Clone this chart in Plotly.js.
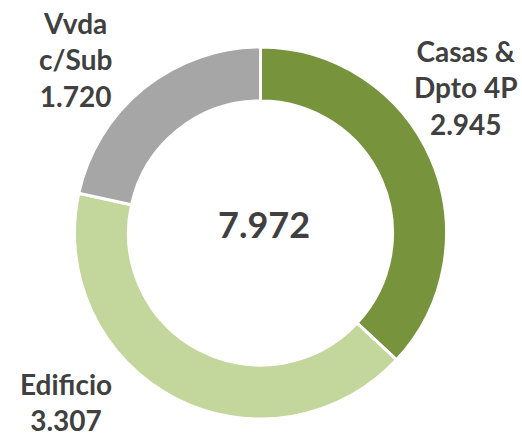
<!DOCTYPE html>
<html>
<head>
<meta charset="utf-8">
<script src="https://cdn.plot.ly/plotly-3.0.1.min.js"></script>
<style>html,body{margin:0;padding:0;background:#fff;}#chart{width:522px;height:439px;}</style>
</head>
<body>
<div id="chart"></div>
<script>
const categories = ["Casas &<br>Dpto 4P", "Edificio", "Vvda<br>c/Sub"];
const values = [2945, 3307, 1720];
const colors = ["#77933C", "#C3D69B", "#A6A6A6"];

function fmt(n) { return n.toString().replace(/\B(?=(\d{3})+(?!\d))/g, "."); }
const total = values.reduce((a, b) => a + b, 0);

const W = 522, H = 439;
// label anchor positions (pixels) for each category
const labelPos = [[466, 87], [66, 402], [75, 60]];

const annotations = categories.map((c, i) => ({
  text: "<b>" + c + "<br>" + fmt(values[i]) + "</b>",
  x: labelPos[i][0] / W, y: 1 - labelPos[i][1] / H,
  xref: "paper", yref: "paper", showarrow: false,
  xanchor: "center", yanchor: "middle", align: "center",
  font: {family: "Lato, 'Open Sans', sans-serif", size: 28, color: "#404040"}
}));
annotations.push({
  text: "<b>" + fmt(total) + "</b>",
  x: 264 / W, y: 1 - 224 / H, xref: "paper", yref: "paper", showarrow: false,
  xanchor: "center", yanchor: "middle",
  font: {family: "Lato, 'Open Sans', sans-serif", size: 36, color: "#404040"}
});

const trace = {
  type: "pie",
  labels: categories,
  values: values,
  hole: 0.71,
  sort: false,
  direction: "clockwise",
  rotation: 0,
  textinfo: "none",
  hoverinfo: "label+value",
  marker: {colors: colors, line: {color: "#ffffff", width: 3}},
  domain: {x: [74 / W, 447 / W], y: [(H - 419) / H, (H - 47) / H]},
  showlegend: false
};

const layout = {
  width: W, height: H,
  margin: {l: 0, r: 0, t: 0, b: 0},
  paper_bgcolor: "#ffffff",
  plot_bgcolor: "#ffffff",
  showlegend: false,
  annotations: annotations
};

Plotly.newPlot("chart", [trace], layout, {displayModeBar: false, staticPlot: true});
</script>
</body>
</html>
